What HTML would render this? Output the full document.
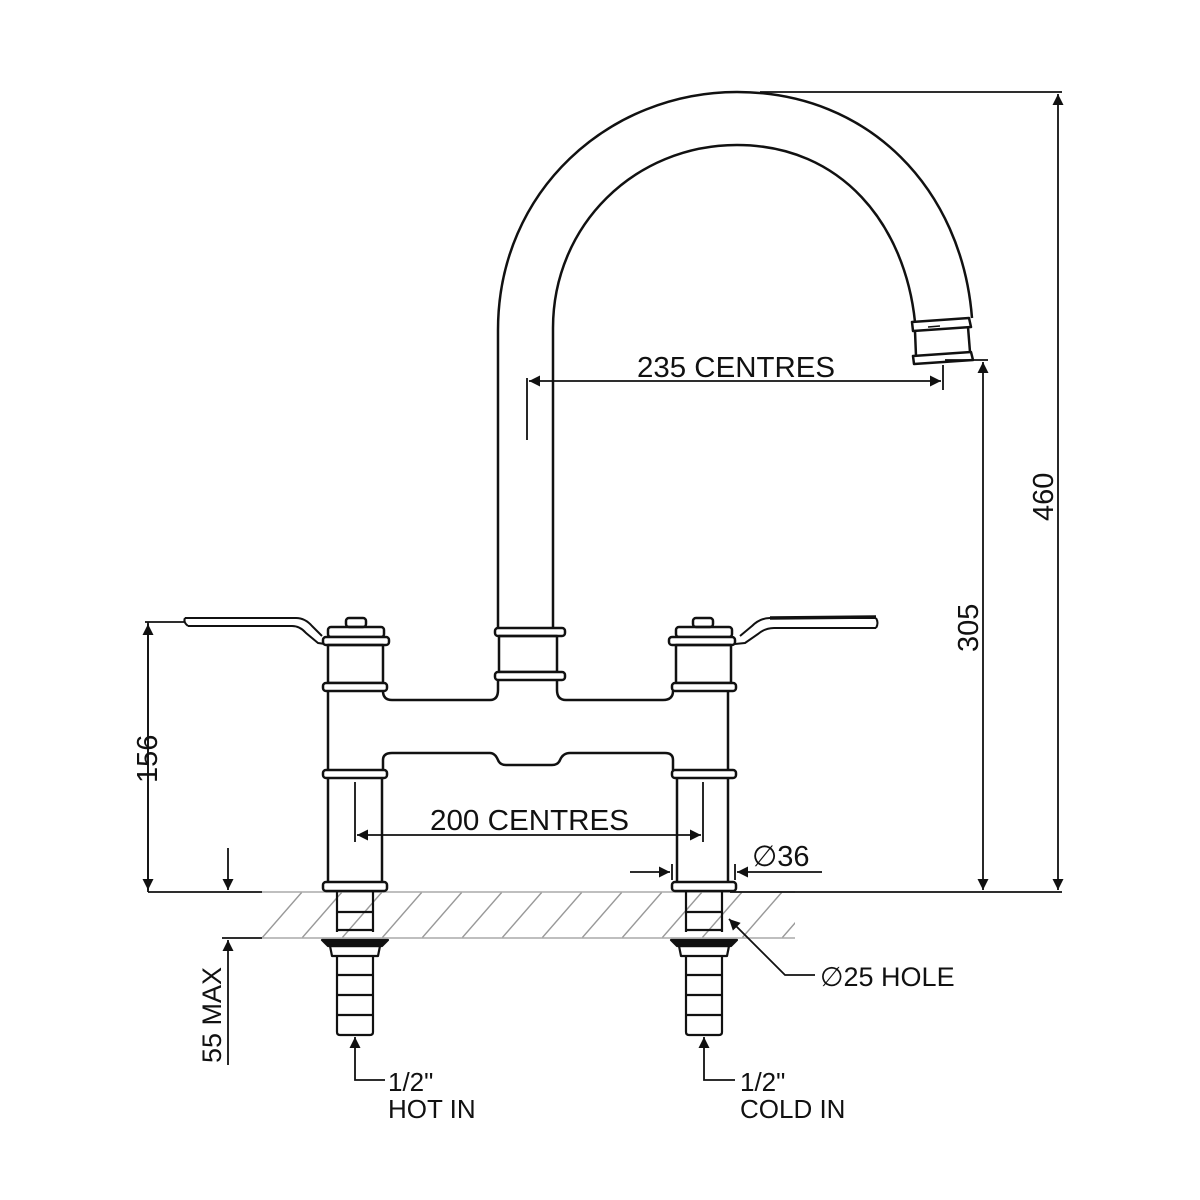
<!DOCTYPE html>
<html><head><meta charset="utf-8"><style>
html,body{margin:0;padding:0;background:#fff}
svg{display:block}
text{font-family:"Liberation Sans","DejaVu Sans",sans-serif;fill:#111}
</style></head><body>
<svg width="1200" height="1200" viewBox="0 0 1200 1200" xmlns="http://www.w3.org/2000/svg">
<defs>
<marker id="a" viewBox="0 0 10 10" refX="10" refY="5" markerWidth="20" markerHeight="11" markerUnits="userSpaceOnUse" orient="auto"><path d="M0,0 L10,5 L0,10 z" fill="#111"/></marker>
<pattern id="h" width="40" height="46" patternUnits="userSpaceOnUse" x="262" y="892"><line x1="0" y1="46" x2="40" y2="0" stroke="#999" stroke-width="1.4"/></pattern>
</defs>
<g fill="none" stroke="#111" stroke-width="2.5" stroke-linejoin="round">
<rect x="262" y="892" width="533" height="46" fill="url(#h)" stroke="none"/>
<line x1="262" y1="892" x2="795" y2="892" stroke="#aaa" stroke-width="1.5"/>
<line x1="262" y1="938" x2="795" y2="938" stroke="#aaa" stroke-width="1.5"/>

<path d="M498,630 L498,330 C498,190 610,92 737,92 C870,92 962,190 972,318"/>
<path d="M553,630 L553,328 C553,225 635,145 737,145 C842,145 905,225 915,322"/>
<path d="M912,322 L969,318 L971,327 L913,331 Z" fill="#fff"/>
<path d="M915,331 L916,356 M968,327 L970,352"/>
<path d="M913,356 L971,352 L973,360 L914,364 Z" fill="#fff"/>
<line x1="928" y1="327" x2="940" y2="326" stroke-width="1.5"/>

<rect x="495" y="628" width="70" height="8" rx="3" fill="#fff"/>
<rect x="499" y="636" width="58" height="36"/>
<rect x="495" y="672" width="70" height="8" rx="3" fill="#fff"/>
<path d="M383,691 Q383,700 392,700 L490,700 Q498,700 498,690 L498,680"/>
<path d="M557,680 L557,690 Q557,700 566,700 L663,700 Q673,700 673,691"/>
<path d="M383,770 L383,760 Q383,753 392,753 L490,753 Q495,753 498,760 Q500,765 506,765 L552,765 Q558,765 560,760 Q563,753 570,753 L665,753 Q673,753 673,760 L673,770"/>

<path d="M185,618 L296,618 Q305,618 312,626 L322,636" stroke-width="2"/>
<path d="M188,626 L292,626 Q300,626 306,633 L318,643 L325,644" stroke-width="2"/>
<path d="M185,618 Q183,622 188,626" stroke-width="2"/>
<rect x="346" y="618" width="20" height="9" rx="3"/>
<rect x="328" y="627" width="56" height="10" rx="3"/>
<rect x="323" y="637" width="66" height="8" rx="3" fill="#fff"/>
<rect x="328" y="645" width="55" height="38"/>
<rect x="323" y="683" width="64" height="8" rx="3" fill="#fff"/>
<line x1="328" y1="691" x2="328" y2="770"/>
<rect x="323" y="770" width="64" height="8" rx="3" fill="#fff"/>
<line x1="328" y1="778" x2="328" y2="882"/>
<line x1="382" y1="778" x2="382" y2="882"/>
<rect x="323" y="882" width="64" height="9" rx="3" fill="#fff"/>

<path d="M876,618 L770,618 Q760,618 752,626 L740,636" stroke-width="2"/>
<path d="M876,628 L774,628 Q765,628 758,634 L745,643 L735,644" stroke-width="2"/>
<path d="M876,618 Q879,623 876,628" stroke-width="2"/>
<path d="M770,618 L876,617" stroke-width="3.5"/>
<rect x="693" y="618" width="20" height="9" rx="3"/>
<rect x="676" y="627" width="56" height="10" rx="3"/>
<rect x="669" y="637" width="66" height="8" rx="3" fill="#fff"/>
<rect x="676" y="645" width="55" height="38"/>
<rect x="672" y="683" width="64" height="8" rx="3" fill="#fff"/>
<line x1="728" y1="691" x2="728" y2="770"/>
<rect x="672" y="770" width="64" height="8" rx="3" fill="#fff"/>
<line x1="677" y1="778" x2="677" y2="882"/>
<line x1="728" y1="778" x2="728" y2="882"/>
<rect x="672" y="882" width="64" height="9" rx="3" fill="#fff"/>

<g stroke-width="2.2">
<path d="M337,892 L337,932 M373,892 L373,932"/>
<path d="M337,912 L373,912 M337,930 L373,930"/>
<path d="M322,940 L388,940 L382,946 L328,946 Z" fill="#111"/>
<path d="M330,946 L380,946 L378,956 L332,956 Z"/>
<path d="M337,956 L337,1032 Q337,1035 340,1035 L370,1035 Q373,1035 373,1032 L373,956"/>
<path d="M337,975 L373,975 M337,995 L373,995 M337,1015 L373,1015"/>
<path d="M686,892 L686,932 M722,892 L722,932"/>
<path d="M686,912 L722,912 M686,930 L722,930"/>
<path d="M671,940 L737,940 L731,946 L677,946 Z" fill="#111"/>
<path d="M679,946 L729,946 L727,956 L681,956 Z"/>
<path d="M686,956 L686,1032 Q686,1035 689,1035 L719,1035 Q722,1035 722,1032 L722,956"/>
<path d="M686,975 L722,975 M686,995 L722,995 M686,1015 L722,1015"/>
</g>
</g>

<g fill="none" stroke="#111" stroke-width="1.8">
<line x1="148" y1="892" x2="262" y2="892"/>
<line x1="730" y1="892" x2="1062" y2="892"/>
<line x1="145" y1="622" x2="185" y2="622"/>
<line x1="148" y1="892" x2="148" y2="624" marker-end="url(#a)"/>
<line x1="148" y1="622" x2="148" y2="890" marker-end="url(#a)"/>
<line x1="760" y1="92" x2="1062" y2="92"/>
<line x1="1058" y1="460" x2="1058" y2="94" marker-end="url(#a)"/>
<line x1="1058" y1="460" x2="1058" y2="890" marker-end="url(#a)"/>
<line x1="945" y1="360" x2="988" y2="360"/>
<line x1="983" y1="600" x2="983" y2="362" marker-end="url(#a)"/>
<line x1="983" y1="600" x2="983" y2="890" marker-end="url(#a)"/>
<line x1="527" y1="378" x2="527" y2="440"/>
<line x1="943" y1="365" x2="943" y2="390"/>
<line x1="735" y1="381" x2="529" y2="381" marker-end="url(#a)"/>
<line x1="735" y1="381" x2="941" y2="381" marker-end="url(#a)"/>
<line x1="355" y1="782" x2="355" y2="842"/>
<line x1="703" y1="782" x2="703" y2="842"/>
<line x1="530" y1="835" x2="357" y2="835" marker-end="url(#a)"/>
<line x1="530" y1="835" x2="701" y2="835" marker-end="url(#a)"/>
<line x1="672" y1="864" x2="672" y2="880"/>
<line x1="735" y1="864" x2="735" y2="880"/>
<line x1="630" y1="872" x2="670" y2="872" marker-end="url(#a)"/>
<line x1="822" y1="872" x2="737" y2="872" marker-end="url(#a)"/>
<line x1="228" y1="848" x2="228" y2="890" marker-end="url(#a)"/>
<line x1="222" y1="938" x2="262" y2="938"/>
<line x1="228" y1="1065" x2="228" y2="940" marker-end="url(#a)"/>
<path d="M815,975 L785,975 L729,919" marker-end="url(#a)"/>
<path d="M385,1080 L355,1080 L355,1037" marker-end="url(#a)"/>
<path d="M735,1080 L704,1080 L704,1037" marker-end="url(#a)"/>
</g>

<g font-size="29">
<text x="637" y="377" textLength="198" lengthAdjust="spacingAndGlyphs">235 CENTRES</text>
<text x="430" y="830" textLength="199" lengthAdjust="spacingAndGlyphs">200 CENTRES</text>
<text x="752" y="866">∅36</text>
<text x="820" y="986" font-family="DejaVu Sans, sans-serif" font-size="27">∅25 HOLE</text>
<text transform="translate(157,783) rotate(-90)">156</text>
<text transform="translate(978,652) rotate(-90)">305</text>
<text transform="translate(1053,521) rotate(-90)">460</text>
<text transform="translate(221,1063) rotate(-90)" font-size="27">55 MAX</text>
<g font-family="DejaVu Sans, sans-serif" font-size="26">
<text x="388" y="1091">1/2"</text>
<text x="388" y="1118">HOT IN</text>
<text x="740" y="1091">1/2"</text>
<text x="740" y="1118">COLD IN</text>
</g>
</g>
</svg>
</body></html>
